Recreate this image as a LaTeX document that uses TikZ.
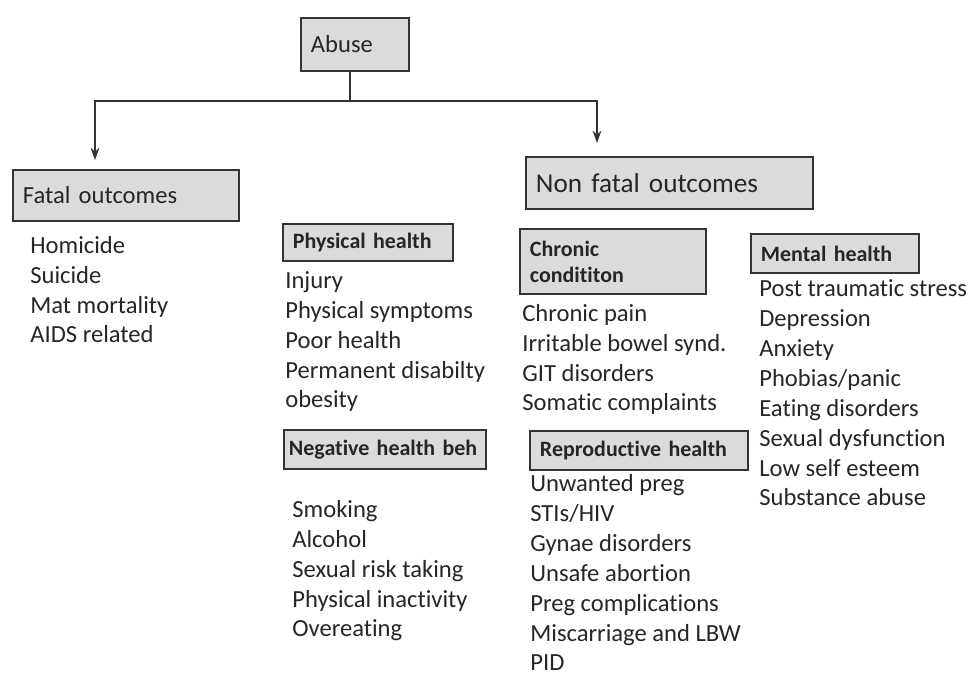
\documentclass[tikz,border=0pt]{standalone}
\usepackage{fontspec}
\setmainfont{Carlito}[Ligatures={NoCommon}]
\usepackage{tikz}
\usetikzlibrary{positioning, arrows.meta}

\newcommand{\listsize}{\fontsize{14}{17.07}\selectfont}
\newcommand{\headsize}{\fontsize{12.5}{14.8}\selectfont\bfseries}

\begin{document}
\begin{tikzpicture}[
    x=0.02cm, y=-0.02cm,
    box/.style={rectangle, draw=black!80, line width=1.1pt, fill=black!14, text=black!85,
        anchor=north west, align=left, inner xsep=0.2cm, inner ysep=0pt, font=\listsize},
    subbox/.style={box, font=\headsize},
    itemlist/.style={anchor=base west, align=left, inner sep=0pt, text=black!85, font=\listsize},
    line/.style={draw=black!80, line width=0.8pt},
    arrow/.style={line, -{Stealth[length=7pt, width=5pt]}}
]
    \useasboundingbox[fill=white] (0,0) rectangle (975,675);

    % Top box
    \node[box, text width=1.76cm, minimum height=1.06cm] (abuse) at (300,17) {Abuse};

    % Outcomes
    \node[box, text width=4.12cm, minimum height=1.02cm] (fatal) at (12,169) {Fatal outcomes};
    \node[box, text width=5.34cm, minimum height=1.04cm, font=\fontsize{15.5}{18}\selectfont] (nonfatal) at (525,156) {Non fatal outcomes};

    % Connections
    \coordinate (split) at (350,101);
    \coordinate (fatalend) at (95,160);
    \coordinate (nonfatalend) at (597,143);
    \draw[line] (abuse.south -| split) -- (split);
    \draw[arrow] (split) -| (fatalend);
    \draw[arrow] (split) -| (nonfatalend);

    % Fatal list (placed by its last line)
    \node[itemlist] (fatallist) at (30,343) {Homicide\\Suicide\\Mat mortality\\AIDS related};

    % Groups
    \node[subbox, text width=3.0cm, minimum height=0.74cm] (physical) at (282,223) {Physical health};
    \node[subbox, inner xsep=0.1cm, text width=3.84cm, minimum height=0.78cm] (negative) at (283,429) {Negative health beh};
    \node[subbox, text width=3.32cm, minimum height=1.3cm] (chronic) at (519,228) {Chronic\\condititon};
    \node[subbox, text width=3.96cm, minimum height=0.78cm] (repro) at (529,430) {Reproductive health};
    \node[subbox, text width=2.96cm, minimum height=0.78cm] (mental) at (750,233) {Mental health};

    % Group lists
    \node[itemlist] (physicallist) at (285,408) {Injury\\Physical symptoms\\Poor health\\Permanent disabilty\\obesity};
    \node[itemlist] (negativelist) at (292,637) {Smoking\\Alcohol\\Sexual risk taking\\Physical inactivity\\Overeating};
    \node[itemlist] (chroniclist) at (522,411) {Chronic pain\\Irritable bowel synd.\\GIT disorders\\Somatic complaints};
    \node[itemlist] (reprolist) at (530,671) {Unwanted preg\\STIs/HIV\\Gynae disorders\\Unsafe abortion\\Preg complications\\Miscarriage and LBW\\PID};
    \node[itemlist] (mentallist) at (759,506) {Post traumatic stress\\Depression\\Anxiety\\Phobias/panic\\Eating disorders\\Sexual dysfunction\\Low self esteem\\Substance abuse};

\end{tikzpicture}
\end{document}
